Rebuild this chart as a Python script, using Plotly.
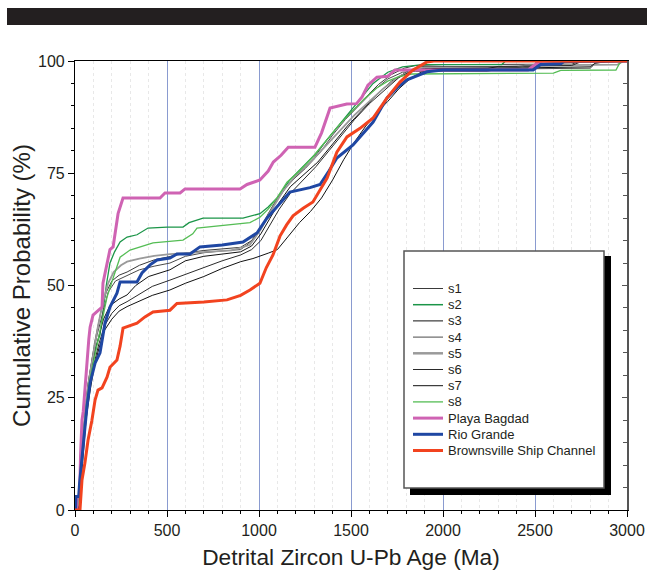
import plotly.graph_objects as go

# ---------------- data (age Ma, cumulative %) ----------------
s1_age = [0,15,25,40,55,70,90,110,140,170,200,240,283,350,430,516,600,700,800,900,960,1020,1080,1150,1220,1300,1370,1440,1510,1580,1650,1720,1790,1850,2000,2700,2750,3000]
s1_pct = [0,0,5,14,22,28,33.5,38,44,48.5,51,52.3,53,54.5,55.7,56.5,57.2,57.8,58.2,58.5,60,63.5,68,72,75,78.5,82.5,86,89,92,94.8,97,98.4,99,99.2,99.3,100,100]

s2_age = [0,15,25,40,55,71,92,110,136,152,170,190,215,245,283,337,397,500,587,620,696,913,1005,1050,1098,1168,1230,1300,1370,1440,1500,1560,1620,1700,1780,1890,2320,2340,3000]
s2_pct = [0,0,6,15,21,25,32,36,39,44.5,50,55,57.5,59.7,60.8,61.3,62.8,63,63,64,65,65,66,67.5,69.5,73.5,76,79,82.5,86,89,92,95,97.5,98.7,99.2,99.2,100,100]

s3_age = [0,18,30,45,60,78,98,125,155,190,240,283,330,400,470,516,600,700,800,900,960,1010,1060,1110,1170,1240,1320,1400,1480,1560,1640,1720,1800,1870,2480,2540,2960,3000]
s3_pct = [0,1,9,17,23,28,33,38,42.5,45.5,47,47.9,50,52,53,53.5,55.5,56.5,57,57.5,58.8,61.5,65,68.5,72,74.5,77.5,81.5,85.5,89,92.5,95.5,97.5,98.7,98.8,99.5,100,100]

s4_age = [0,15,28,42,57,75,95,120,150,180,220,283,350,430,516,600,700,800,900,950,1000,1050,1100,1170,1250,1330,1400,1470,1540,1620,1700,1780,1850,2240,2300,2800,2830,2900,3000]
s4_pct = [0,1,8,16,23,29,34,39,44,48.5,51,52.3,53.5,54.3,55,56.5,57.3,57.7,58,59.5,62,66,69.5,73,76,79.5,83.5,87,90,93.3,96,97.5,97.7,97.7,98.2,98.4,99.5,100,100]

s5_age = [0,18,30,45,60,80,100,125,150,180,210,250,283,350,430,516,600,700,850,950,1010,1070,1130,1200,1280,1360,1440,1520,1600,1680,1760,1840,1900,2400,2450,2950,2980,3000]
s5_pct = [0,1,9,17,24,30,35,41,46,50.5,53,54.5,55.3,56,56.6,57,57.2,57.4,57.8,59,62.5,67,71,74.5,77.5,81,84.5,88,91,94,96.5,98,98.5,98.6,99,99.2,100,100]

s6_age = [0,20,32,47,62,80,100,130,160,200,240,283,350,420,516,600,700,800,900,960,1010,1060,1110,1170,1240,1310,1380,1450,1520,1600,1680,1760,1830,1900,2240,2300,2700,2760,3000]
s6_pct = [0,1,8,16,22,27,32,37,41,43.8,45.5,46.4,48,49.8,51.2,52.5,54,55.5,56.8,58,60,63.5,67,70.5,73.5,76.5,80,83.5,87,90.5,93.5,96.3,97.8,98.3,98.3,98.8,99,100,100]

s7_age = [0,20,30,45,60,80,100,130,160,200,240,283,350,420,516,600,700,800,900,967,1050,1100,1160,1220,1280,1340,1400,1460,1520,1580,1640,1700,1760,1820,1880,1950,2500,2800,2830,2950,3000]
s7_pct = [0,0,5,13,20,26,31,36,40,42.5,44.3,45.3,46.5,47.8,49,50.5,52,53.8,55.3,56,57.2,58,61,64,66.5,69.5,73.5,78,82,85.5,88.5,91,93.8,96,97.5,98.3,98.5,98.7,99.6,100,100]

s8_age = [0,18,30,45,60,80,100,120,145,174,210,245,299,391,424,587,640,663,800,951,1005,1050,1098,1152,1220,1290,1360,1430,1500,1570,1640,1700,1760,1830,2600,2640,2940,2960,2980,3000]
s8_pct = [0,1,8,16,23,29,33,37.2,42,47.4,52,56.3,57.9,59,59.5,60.1,61.5,62.8,63.3,64,65.2,67,69.5,73,75.5,78.5,82,85.5,88.5,91.5,94,95.5,96.5,97.1,97.3,97.9,98,99.5,100,100]

playa_age = [0,10,12,25,30,38,45,55,65,75,82,98,147,152,190,207,234,261,462,489,571,598,897,935,1005,1050,1078,1120,1159,1304,1340,1386,1477,1530,1560,1592,1641,1700,1739,2462,2511,2540,3000]
playa_pct = [0,0,3,3,12,20,22,28,33,38,40.7,43.4,45.2,50.5,58,58.6,66,69.5,69.5,70.6,70.6,71.5,71.5,72.5,73.5,75.5,77.5,79,80.8,80.8,84,89.5,90.4,90.5,92,94.6,96.4,96.6,98,98,99.5,100,100]

rio_age = [0,3,5,20,25,38,54,65,82,109,136,163,190,228,245,337,364,408,446,516,554,625,679,800,913,989,1043,1098,1168,1277,1332,1380,1423,1511,1560,1620,1696,1750,1804,1913,2000,2490,2530,2640,2660,3000]
rio_pct = [0,0,3,3,6,11.8,17.8,23,28.3,32.7,35,41.6,45.2,48.3,50.8,50.8,52.8,54.6,55.7,56.1,57,57,58.6,59,59.7,61.7,65,67.5,70.8,71.8,72.5,75.5,78.4,81.3,83.5,86.4,91.8,94,95.8,97.6,98,98,99.2,99.4,100,100]

bsc_age = [0,27,38,54,71,92,109,125,147,174,190,228,245,261,337,380,424,516,554,608,700,826,900,951,1005,1040,1076,1114,1150,1185,1240,1293,1330,1370,1423,1478,1549,1620,1696,1766,1837,1913,1950,3000]
bsc_pct = [0,0,6.7,10.5,15.6,20,24.5,26.7,27.2,29.6,31.8,33.4,36.5,40.5,41.6,43,44.1,44.5,46,46.1,46.3,46.8,47.8,49,50.5,54,56.8,61,63.5,65.5,67.2,68.6,71,73.9,79.7,83.1,85,87.3,91.8,95.3,98,99.8,100,100]

names = ["s1", "s2", "s3", "s4", "s5", "s6", "s7", "s8",
         "Playa Bagdad", "Rio Grande", "Brownsville Ship Channel"]
ages = [s1_age, s2_age, s3_age, s4_age, s5_age, s6_age, s7_age, s8_age,
        playa_age, rio_age, bsc_age]
pcts = [s1_pct, s2_pct, s3_pct, s4_pct, s5_pct, s6_pct, s7_pct, s8_pct,
        playa_pct, rio_pct, bsc_pct]

x_ticks = [0, 500, 1000, 1500, 2000, 2500, 3000]
y_ticks = [0, 25, 50, 75, 100]

# ---------------- styles ----------------
colors = ["#3a3a3a", "#1b9548", "#111111", "#4a4a4a", "#9a9a9a", "#2a2a2a",
          "#111111", "#55bd55", "#cf63b3", "#1f47a3", "#f2431f"]
widths = [1, 1.3, 1, 1, 1.8, 1, 1, 1.3, 3, 3, 3]
leg_widths = [1, 1.5, 1, 1, 2.5, 1, 1, 1.3, 3, 3, 3]

TXT = "#231f20"
FONT = "Liberation Sans, Arial, sans-serif"

fig = go.Figure()
for a, p, n, c, w in zip(ages, pcts, names, colors, widths):
    fig.add_trace(go.Scatter(x=a, y=p, name=n, mode="lines",
                             line=dict(color=c, width=w), showlegend=False))
# carrier for the right-hand axis
fig.add_trace(go.Scatter(x=[], y=[], yaxis="y2", showlegend=False, hoverinfo="skip"))

# plot area in pixels
L, R, T, B = 75, 627, 61, 510
W, H = R - L, B - T

def px(xp):
    return (xp - L) / W

def py(yp):
    return (B - yp) / H

shapes = []
annotations = []
# top dark band
shapes.append(dict(type="rect", xref="paper", yref="paper",
                   x0=px(7), x1=px(660), y0=py(25), y1=py(8),
                   fillcolor=TXT, line=dict(width=0), layer="above"))
# legend shadow and box
shapes.append(dict(type="rect", xref="paper", yref="paper",
                   x0=px(410), x1=px(611), y0=py(495), y1=py(256),
                   fillcolor="#000000", line=dict(width=0), layer="above"))
shapes.append(dict(type="rect", xref="paper", yref="paper",
                   x0=px(404), x1=px(604), y0=py(488), y1=py(251),
                   fillcolor="#ffffff", line=dict(color="#555555", width=1.5), layer="above"))
for i, (n, c, w) in enumerate(zip(names, colors, leg_widths)):
    yy = 288.5 + i * 16.2
    shapes.append(dict(type="line", xref="paper", yref="paper",
                       x0=px(413), x1=px(443), y0=py(yy), y1=py(yy),
                       line=dict(color=c, width=w), layer="above"))
    annotations.append(dict(xref="paper", yref="paper", x=px(446), y=py(yy),
                            text=n, showarrow=False, xanchor="left", yanchor="middle",
                            font=dict(family=FONT, size=13, color=TXT)))

fig.update_layout(
    width=647, height=570,
    margin=dict(l=L, r=647 - R, t=T, b=570 - B),
    paper_bgcolor="#ffffff", plot_bgcolor="#ffffff",
    font=dict(family=FONT, color=TXT),
    shapes=shapes, annotations=annotations,
    showlegend=False,
    xaxis=dict(range=[0, 3000], tickvals=x_ticks, ticks="outside", ticklen=6,
               tickcolor="#000", tickwidth=1, automargin=False,
               showline=True, linecolor="#000", linewidth=1.2, mirror=True,
               showgrid=True, gridcolor="#8a9bd0", gridwidth=1, zeroline=False,
               tickfont=dict(size=16, color=TXT),
               minor=dict(dtick=100, ticks="outside", ticklen=3, tickcolor="#000",
                          showgrid=True, gridcolor="#e8e8e8", griddash="dot", gridwidth=1),
               title=dict(text="Detrital Zircon U-Pb Age (Ma)", font=dict(size=22.7, color=TXT),
                          standoff=10)),
    yaxis=dict(range=[0, 100], tickvals=y_ticks, ticks="outside", ticklen=6,
               tickcolor="#000", showline=True, linecolor="#000", linewidth=1.2,
               showgrid=False, zeroline=False, automargin=False,
               tickfont=dict(size=16, color=TXT),
               minor=dict(dtick=5, ticks="outside", ticklen=3, tickcolor="#000"),
               title=dict(text="Cumulative Probability (%)", font=dict(size=24, color=TXT),
                          standoff=0)),
    yaxis2=dict(range=[0, 100], overlaying="y", side="right", showline=True,
                linecolor="#555555", linewidth=2, ticks="inside", tickvals=y_ticks,
                ticklen=5, tickcolor="#555555", showticklabels=False,
                showgrid=False, zeroline=False, automargin=False,
                minor=dict(dtick=5, ticks="inside", ticklen=4, tickcolor="#555555")),
)

fig.write_html("out.html", config={"displayModeBar": False},
               post_script="document.body.style.margin='0';document.body.style.overflow='hidden';")
